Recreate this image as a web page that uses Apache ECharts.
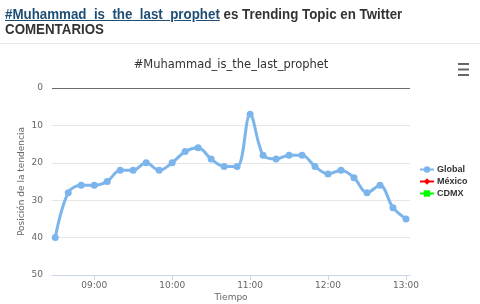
<!DOCTYPE html>
<html>
<head>
<meta charset="utf-8">
<script src="https://cdn.jsdelivr.net/npm/echarts@6/dist/echarts.min.js"></script>
<style>
html,body{margin:0;padding:0;width:480px;height:304px;overflow:hidden;background:#fff;}
#chart{position:absolute;left:0;top:0;width:480px;height:304px;}
#head{position:absolute;left:5px;top:6px;font-family:"Liberation Sans",sans-serif;font-weight:bold;font-size:15.5px;line-height:15px;color:#333;z-index:2;white-space:nowrap;transform:scaleX(0.86);transform-origin:0 0;}
#head a{color:#1f4e74;text-decoration:underline;}
#sep{position:absolute;left:0;top:43px;width:480px;height:1px;background:#e8e8e8;z-index:2;}
</style>
</head>
<body>
<div id="chart"></div>
<div id="head"><a>#Muhammad_is_the_last_prophet</a> es Trending Topic en Twitter<br>COMENTARIOS</div>
<div id="sep"></div>
<script>
var times = ["08:30","08:40","08:50","09:00","09:10","09:20","09:30","09:40","09:50","10:00",
             "10:10","10:20","10:30","10:40","10:50","11:00","11:10","11:20","11:30","11:40",
             "11:50","12:00","12:10","12:20","12:30","12:40","12:50","13:00"];
var globalPos = [40,28,26,26,25,22,22,20,22,20,
                 17,16,19,21,21,7,18,19,18,18,
                 21,23,22,24,28,26,32,35];
var mexicoPos = [];
var cdmxPos = [];
var xTickLabels = ["09:00","10:00","11:00","12:00","13:00"];

function toMin(t){var p=t.split(":");return (+p[0])*60+(+p[1]);}
var globalData = times.map(function(t,i){return [toMin(t), globalPos[i]];});
var tickVals = xTickLabels.map(toMin);
var xMin = 507.5, xMax = 783.1;

var FONT = "DejaVu Sans";
var chart = echarts.init(document.getElementById('chart'));
chart.setOption({
  animation:false,
  textStyle:{fontFamily:FONT},
  grid:{left:52,right:70,top:88,bottom:29,containLabel:false,outerBoundsMode:'none'},
  legend:{
    orient:'vertical', left:419, top:165, itemGap:3, padding:0,
    itemWidth:14, itemHeight:8,
    textStyle:{fontFamily:'Liberation Sans',fontSize:9,fontWeight:'bold',color:'#333',padding:[0,0,0,-2]},
    data:['Global','México','CDMX']
  },
  xAxis:{
    type:'value', min:xMin, max:xMax, position:'bottom',
    name:'Tiempo', nameLocation:'middle', nameGap:18, nameMoveOverlap:false,
    nameTextStyle:{fontSize:9,color:'#666',fontFamily:FONT},
    axisLine:{show:true,onZero:false,lineStyle:{color:'#ccd6eb',width:1}},
    axisTick:{show:true,customValues:tickVals,length:5,lineStyle:{color:'#ccd6eb'}},
    axisLabel:{customValues:tickVals,formatter:function(v){var i=tickVals.indexOf(v);return i>=0?xTickLabels[i]:'';},fontSize:9,color:'#666',margin:6,fontFamily:FONT},
    splitLine:{show:false}
  },
  yAxis:{
    type:'value', inverse:true, min:0, max:50, interval:10,
    name:'Posición de la tendencia', nameLocation:'middle', nameGap:26, nameMoveOverlap:false,
    nameTextStyle:{fontSize:9,color:'#666',fontFamily:FONT},
    axisLine:{show:false}, axisTick:{show:false},
    axisLabel:{fontSize:9,color:'#666',margin:9,fontFamily:FONT},
    splitLine:{show:true,lineStyle:{color:['#6b6b6b','#e6e6e6','#e6e6e6','#e6e6e6','#e6e6e6','#e6e6e6'],width:1}}
  },
  series:[
    {name:'Global',type:'line',data:globalData,smooth:0.35,color:'#7cb5ec',
     symbol:'circle',symbolSize:7,showSymbol:true,
     lineStyle:{width:3,color:'#7cb5ec'},itemStyle:{color:'#7cb5ec'}},
    {name:'México',type:'line',data:mexicoPos,color:'#ff0000',symbol:'diamond',symbolSize:7,
     lineStyle:{width:3,color:'#ff0000'},itemStyle:{color:'#ff0000'}},
    {name:'CDMX',type:'line',data:cdmxPos,color:'#00ff00',symbol:'rect',symbolSize:7,
     lineStyle:{width:3,color:'#00ff00'},itemStyle:{color:'#00ff00'}}
  ],
  graphic:[
    {type:'text',x:231,y:59,style:{text:'#Muhammad_is_the_last_prophet',fontSize:11.5,fill:'#333',fontFamily:FONT,align:'center'}},
    {type:'rect',shape:{x:458,y:63,width:11,height:2},style:{fill:'#666'}},
    {type:'rect',shape:{x:458,y:68.5,width:11,height:2},style:{fill:'#666'}},
    {type:'rect',shape:{x:458,y:74,width:11,height:2},style:{fill:'#666'}}
  ]
});
</script>
</body>
</html>
